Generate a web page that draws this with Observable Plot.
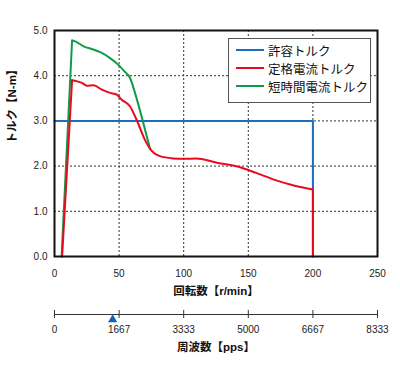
<!DOCTYPE html>
<html><head><meta charset="utf-8">
<script src="https://cdn.jsdelivr.net/npm/d3@7"></script>
<script src="https://cdn.jsdelivr.net/npm/@observablehq/plot@0.6"></script>
<style>
body{margin:0;background:#fff;}
#wrap{position:relative;width:400px;height:370px;font-family:"Liberation Sans","Noto Sans CJK JP",sans-serif;}
#wrap svg{position:absolute;left:0;}
#legend{position:absolute;left:228px;top:38px;width:141px;height:61px;border:1px solid #555;background:#fff;padding-top:2px;box-sizing:content-box;}
.row{display:flex;align-items:center;height:18px;font-size:12.5px;color:#111;font-family:"Noto Sans CJK JP",sans-serif;}
.sw{width:28px;height:2px;margin-left:7px;margin-right:4px;}
</style></head>
<body><div id="wrap"></div>
<script>
const FONT = '"Liberation Sans","Noto Sans CJK JP",sans-serif';
// axis ticks
const rpmTicks = [0, 50, 100, 150, 200, 250];
const torqueTicks = [0, 1, 2, 3, 4, 5];
const ppsTicks = [0, 1667, 3333, 5000, 6667, 8333];
const ppsMax = 8333.33;
const markerPps = [1500];
// titles
const xTitle = "回転数【r/min】";
const yTitle = "トルク【N-m】";
const ppsTitle = "周波数【pps】";
// series
const seriesNames = ["許容トルク", "定格電流トルク", "短時間電流トルク"];
const seriesColors = ["#1a6cc4", "#ea0a1e", "#109a4a"];
const allowRpm = [0, 200, 200];
const allowTorque = [3.0, 3.0, 0];
const ratedRpm = [5.9, 13.6, 17, 21.3, 25, 30.3, 36.7, 43, 48.2, 52, 58.5, 63.6, 70, 74, 81.5, 91.8, 100, 109.7, 125, 143, 156, 171, 186.7, 200, 200];
const ratedTorque = [0, 3.9, 3.88, 3.84, 3.78, 3.79, 3.69, 3.62, 3.58, 3.47, 3.32, 3.02, 2.58, 2.38, 2.22, 2.17, 2.16, 2.17, 2.08, 1.98, 1.85, 1.69, 1.56, 1.48, 0];
const shortRpm = [5.5, 13.6, 16, 22.6, 30, 35.4, 43, 49.5, 54, 58.5, 62.3, 67.4, 74];
const shortTorque = [0, 4.78, 4.76, 4.65, 4.58, 4.52, 4.39, 4.24, 4.1, 3.95, 3.62, 3.1, 2.38];

const toRows = (xs, ys) => xs.map((x, i) => ({x, y: ys[i]}));
const allow = toRows(allowRpm, allowTorque);
const rated = toRows(ratedRpm, ratedTorque);
const short = toRows(shortRpm, shortTorque);
// straight rise, smooth body, straight drop
const ratedRise = rated.slice(0, 2), ratedBody = rated.slice(1, -1), ratedDrop = rated.slice(-2);
const shortRise = short.slice(0, 2), shortBody = short.slice(1);

const wrap = document.getElementById("wrap");
const L = (data, color, curve) => Plot.line(data, {x: "x", y: "y", stroke: color, strokeWidth: 2, curve, strokeLinejoin: "round", strokeLinecap: "round"});

const main = Plot.plot({
  width: 400, height: 305,
  marginLeft: 54, marginRight: 23, marginTop: 30, marginBottom: 49,
  style: {fontFamily: FONT, fontSize: "10px", color: "#222", background: "transparent"},
  x: {domain: [0, 250]},
  y: {domain: [0, 5]},
  marks: [
    Plot.gridX(rpmTicks.slice(1, -1), {stroke: "#333", strokeOpacity: 1, strokeDasharray: "2,2", strokeWidth: 1}),
    Plot.gridY(torqueTicks.slice(1, -1), {stroke: "#333", strokeOpacity: 1, strokeDasharray: "2,2", strokeWidth: 1}),
    Plot.line(allow, {x: "x", y: "y", stroke: seriesColors[0], strokeWidth: 2}),
    L(shortRise, seriesColors[2], "linear"),
    L(shortBody, seriesColors[2], "monotone-x"),
    L(ratedRise, seriesColors[1], "linear"),
    L(ratedBody, seriesColors[1], "monotone-x"),
    L(ratedDrop, seriesColors[1], "linear"),
    Plot.frame({stroke: "#111", strokeWidth: 2}),
    Plot.axisX(rpmTicks, {tickSize: 0, tickPadding: 13, label: null}),
    Plot.axisY(torqueTicks, {tickSize: 0, tickPadding: 7, tickFormat: d => d.toFixed(1), label: null}),
    Plot.text([xTitle], {frameAnchor: "bottom", dy: 38, fontSize: 11.5, fontWeight: "bold", fill: "#111"}),
    Plot.text([yTitle], {frameAnchor: "left", dx: -42, rotate: -90, fontSize: 11.5, fontWeight: "bold", fill: "#111"})
  ]
});
main.style.top = "0px";
wrap.appendChild(main);

const pps = Plot.plot({
  width: 400, height: 65,
  marginLeft: 54, marginRight: 23, marginTop: 0, marginBottom: 56,
  style: {fontFamily: FONT, fontSize: "10px", color: "#222", background: "transparent"},
  x: {domain: [0, ppsMax]},
  y: {domain: [0, 1], axis: null},
  marks: [
    Plot.ruleY([0], {stroke: "#333", strokeWidth: 1.2}),
    Plot.ruleX(ppsTicks, {x: d => d, stroke: "#333", insetTop: 5, insetBottom: -4}),
    Plot.dot(markerPps, {x: d => d, frameAnchor: "bottom", dy: 5, symbol: "triangle", r: 3.4, fill: "#1160b8", stroke: "none"}),
    Plot.axisX(ppsTicks, {tickSize: 0, tickPadding: 11, tickFormat: d => String(d), label: null}),
    Plot.text([ppsTitle], {frameAnchor: "bottom", dy: 36, fontSize: 11.5, fontWeight: "bold", fill: "#111"})
  ]
});
pps.style.top = "305px";
wrap.appendChild(pps);

const legend = document.createElement("div");
legend.id = "legend";
seriesNames.forEach((name, i) => {
  const row = document.createElement("div");
  row.className = "row";
  const sw = document.createElement("div");
  sw.className = "sw";
  sw.style.background = seriesColors[i];
  const t = document.createElement("span");
  t.textContent = name;
  row.appendChild(sw); row.appendChild(t);
  legend.appendChild(row);
});
wrap.appendChild(legend);
</script></body></html>
